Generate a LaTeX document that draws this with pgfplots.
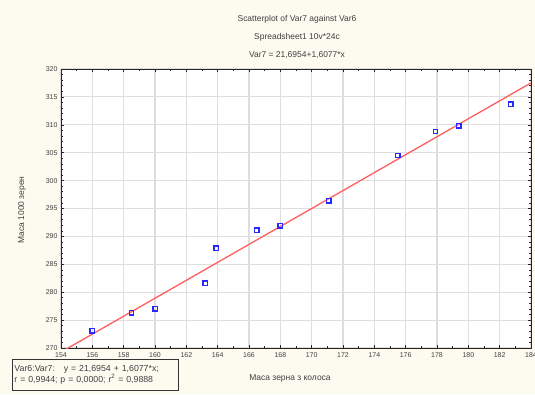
\documentclass[border=0pt]{standalone}
\usepackage{pgfplots}
\pgfplotsset{compat=1.18}
\usepackage{fontspec}
\setmainfont{Liberation Sans}
\definecolor{bgc}{RGB}{253,250,240}
\definecolor{gridc}{RGB}{222,222,222}
\definecolor{ptc}{RGB}{40,40,255}
\definecolor{linec}{RGB}{255,95,95}
\begin{document}
\begin{tikzpicture}[x=1bp,y=1bp]
\fill[bgc] (0,0) rectangle (535,394);
\useasboundingbox (0,0) rectangle (535,394);
\begin{axis}[at={(61bp,46bp)}, anchor=south west, scale only axis,
  width=470bp, height=279bp,
  xmin=154, xmax=184, ymin=270, ymax=320,
  xtick={154,156,...,184}, ytick={270,275,...,320},
  minor x tick num=1, minor y tick num=4,
  tick align=inside, xtick pos=both, ytick pos=both,
  major tick length=3bp, minor tick length=2bp,
  grid=major, major grid style={gridc, line width=1.1bp},
  axis background/.style={fill=white},
  axis line style={black!85, line width=0.9bp},
  tick style={black!85, line width=0.6bp},
  ticklabel style={font=\fontsize{7}{8}\selectfont, text=black!75},
  /pgf/number format/assume math mode=true,
  xticklabel style={yshift=-1bp},
]
\addplot[linec, line width=1.3bp] coordinates {(154,269.27) (184,317.51)};
\addplot[only marks, mark=square, mark size=2.2bp, draw=ptc, mark options={draw=ptc, fill=white, line width=1.4bp}] coordinates {
(156.0,273.1) (158.5,276.3) (160.0,277.0) (163.2,281.6) (163.9,287.9) (166.5,291.1)
(168.0,291.9) (171.1,296.4) (175.5,304.5) (177.9,308.8) (179.4,309.8) (182.7,313.7)};
\end{axis}
\begin{scope}[font=\fontsize{8.5}{10}\selectfont, text=black!75]
\node at (297,375) {Scatterplot of Var7 against Var6};
\node at (297,357) {Spreadsheet1 10v*24c};
\node at (297,339) {Var7 = 21,6954+1,6077*x};
\node[rotate=90] at (22,184) {Маса 1000 зерен};
\node at (290,16) {Маса зерна з колоса};
\node[draw=black!80, line width=0.9bp, fill=bgc, anchor=south west, minimum width=166bp, minimum height=31bp, align=left, text width=162bp, inner sep=2bp, font=\fontsize{8.8}{11}\selectfont] at (12,3) {Var6:Var7:\quad y = 21,6954 + 1,6077*x;\\ r = 0,9944; p = 0,0000; r\textsuperscript{2} = 0,9888};
\end{scope}
\end{tikzpicture}
\end{document}
